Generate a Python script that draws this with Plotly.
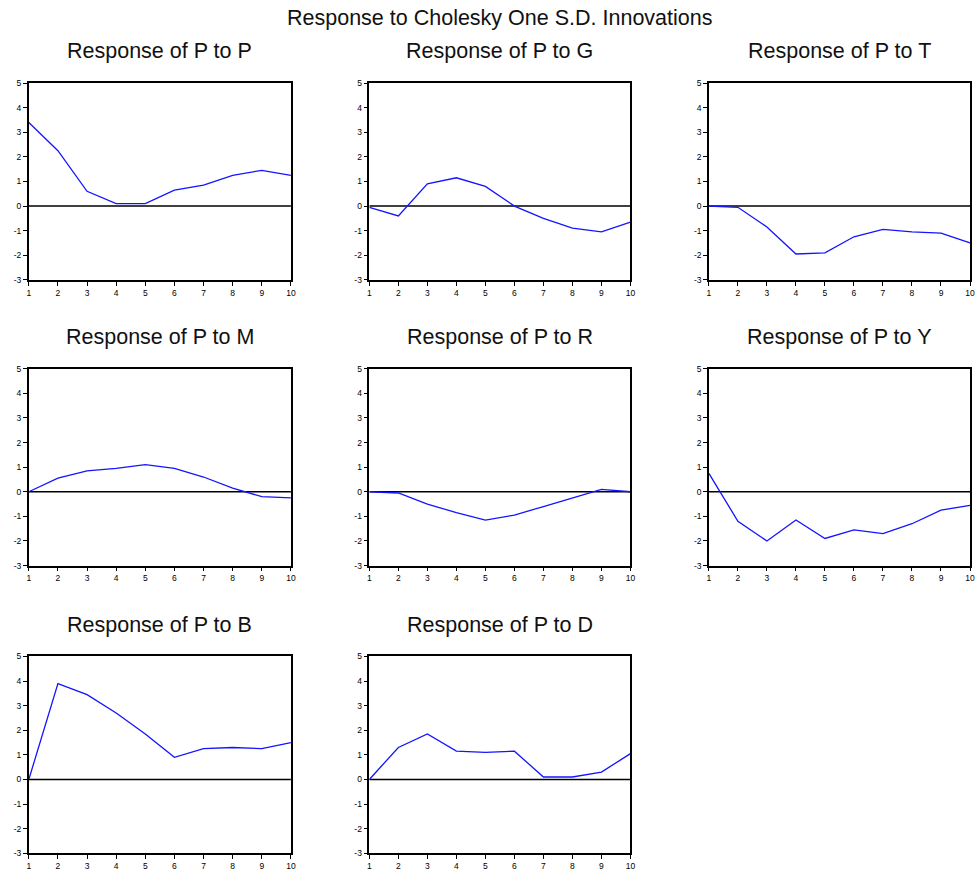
import plotly.graph_objects as go

# Impulse-response horizon (periods)
periods = [1, 2, 3, 4, 5, 6, 7, 8, 9, 10]

# Responses of P to a one-S.D. shock in each variable
resp_P = [3.4, 2.25, 0.6, 0.1, 0.1, 0.65, 0.85, 1.25, 1.45, 1.25]
resp_G = [-0.05, -0.4, 0.9, 1.15, 0.8, 0.0, -0.5, -0.9, -1.05, -0.65]
resp_T = [0.0, -0.05, -0.85, -1.95, -1.9, -1.25, -0.95, -1.05, -1.1, -1.5]
resp_M = [0.0, 0.55, 0.85, 0.95, 1.1, 0.95, 0.6, 0.15, -0.2, -0.25]
resp_R = [0.0, -0.05, -0.5, -0.85, -1.15, -0.95, -0.6, -0.25, 0.1, 0.0]
resp_Y = [0.75, -1.2, -2.0, -1.15, -1.9, -1.55, -1.7, -1.3, -0.75, -0.55]
resp_B = [0.0, 3.9, 3.45, 2.7, 1.85, 0.9, 1.25, 1.3, 1.25, 1.5]
resp_D = [0.0, 1.3, 1.85, 1.15, 1.1, 1.15, 0.1, 0.1, 0.3, 1.05]

panel_titles = ["Response of P to P", "Response of P to G", "Response of P to T",
                "Response of P to M", "Response of P to R", "Response of P to Y",
                "Response of P to B", "Response of P to D"]
panel_series = [resp_P, resp_G, resp_T, resp_M, resp_R, resp_Y, resp_B, resp_D]

y_ticks = [-3, -2, -1, 0, 1, 2, 3, 4, 5]
main_title = "Response to Cholesky One S.D. Innovations"

W, H = 976, 877
col_px = [(27, 291), (370, 633), (712, 975)]
row_px = [(79, 278), (368, 567), (659, 858)]

fig = go.Figure()
layout = {}
annotations = []

tick_font = dict(family="Liberation Sans, Arial", size=8.5, color="black")

for i, (title, series) in enumerate(zip(panel_titles, panel_series)):
    r, c = divmod(i, 3)
    n = i + 1
    xa = "xaxis" if n == 1 else f"xaxis{n}"
    ya = "yaxis" if n == 1 else f"yaxis{n}"
    xref = "x" if n == 1 else f"x{n}"
    yref = "y" if n == 1 else f"y{n}"
    x0, x1 = col_px[c]
    t0, t1 = row_px[r]

    layout[xa] = dict(
        domain=[x0 / W, x1 / W], range=[1, 10], anchor=yref,
        tickmode="array", tickvals=periods, ticktext=[str(p) for p in periods],
        ticks="outside", ticklen=4, tickwidth=1, tickcolor="black",
        showline=True, linecolor="black", linewidth=1.5, mirror=True,
        showgrid=False, zeroline=False, tickfont=tick_font,
    )
    layout[ya] = dict(
        domain=[1 - t1 / H, 1 - t0 / H], range=[-3, 5], anchor=xref,
        tickmode="array", tickvals=y_ticks, ticktext=[str(v) for v in y_ticks],
        ticks="outside", ticklen=4, tickwidth=1, tickcolor="black",
        showline=True, linecolor="black", linewidth=1.5, mirror=True,
        showgrid=False, zeroline=False, tickfont=tick_font,
    )

    # zero reference line
    fig.add_trace(go.Scatter(
        x=[1, 10], y=[0, 0], xaxis=xref, yaxis=yref, mode="lines",
        line=dict(color="black", width=1.5), hoverinfo="skip", showlegend=False,
    ))
    fig.add_trace(go.Scatter(
        x=periods, y=series, xaxis=xref, yaxis=yref, mode="lines",
        line=dict(color="#1414ff", width=1.3), name=title, showlegend=False,
    ))

    annotations.append(dict(
        text=title, x=(x0 + x1) / 2 / W, y=1 - (t0 - 32) / H,
        xref="paper", yref="paper", xanchor="center", yanchor="middle",
        showarrow=False,
        font=dict(family="Liberation Sans, Arial", size=21.5, color="#111111"),
    ))

annotations.append(dict(
    text=main_title, x=501 / W, y=1 - 13 / H,
    xref="paper", yref="paper", xanchor="center", yanchor="middle",
    showarrow=False,
    font=dict(family="Liberation Sans, Arial", size=21.5, color="#111111"),
))

fig.update_layout(
    width=W, height=H,
    margin=dict(l=0, r=0, t=0, b=0),
    paper_bgcolor="white", plot_bgcolor="white",
    showlegend=False,
    annotations=annotations,
    **layout,
)

fig.write_html("out.html")
